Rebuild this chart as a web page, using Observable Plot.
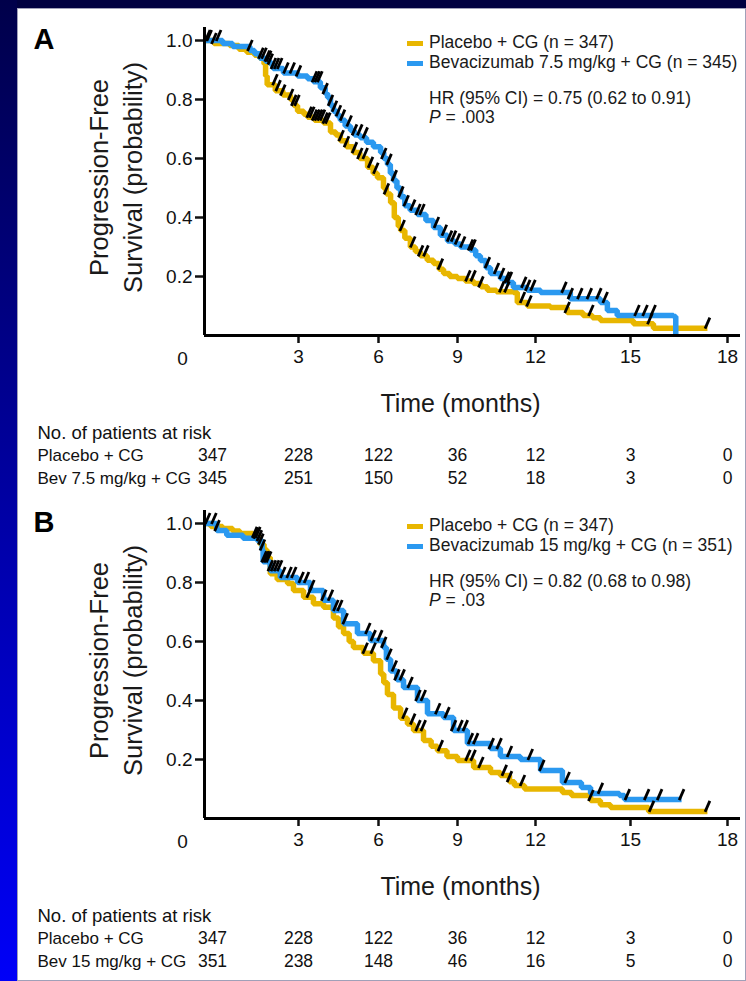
<!DOCTYPE html>
<html>
<head>
<meta charset="utf-8">
<script src="https://cdn.jsdelivr.net/npm/d3@7"></script>
<script src="https://cdn.jsdelivr.net/npm/@observablehq/plot@0.6"></script>
<style>
html, body { margin: 0; padding: 0; }
body { width: 746px; height: 981px; background: #000040; position: relative; overflow: hidden; font-family: "Liberation Sans", Arial, sans-serif; }
#strip { position: absolute; left: 0; top: 0; width: 17px; height: 981px; background: linear-gradient(#00004a, #0000f8); }
#panel { position: absolute; left: 17px; top: 8px; width: 729px; height: 973px; background: #fff; box-shadow: inset 0 0 0 1px #a0a0b8; }
.chart { position: absolute; left: 0; }
.sw { position: absolute; width: 16px; height: 5px; }
.lg { position: absolute; left: 429px; font-size: 17.5px; color: #1a1a1a; white-space: nowrap; line-height: 1; }
</style>
</head>
<body>
<div id="strip"></div>
<div id="panel"></div>
<script>
// ---------- data ----------
const scaleMonths = [0, 3, 6, 9, 12, 15, 18];
const xTicks = [3, 6, 9, 12, 15, 18];
const yTicks = [0.2, 0.4, 0.6, 0.8, 1.0];
const riskTimes = [0, 3, 6, 9, 12, 15, 18];
const originLabel = [0];

// Panel A: step curves [months, survival]
const placeboA = [[0,1.0],[0.3,0.99],[0.8,0.983],[1.1,0.97],[1.35,0.96],[1.6,0.95],[1.77,0.94],[1.9,0.92],[1.95,0.88],[2.0,0.85],
  [2.26,0.83],[2.5,0.815],[2.74,0.80],[2.85,0.78],[2.97,0.76],[3.2,0.75],[3.34,0.74],[3.6,0.73],[3.94,0.72],[4.2,0.69],
  [4.4,0.68],[4.57,0.66],[4.8,0.64],[5.06,0.62],[5.3,0.60],[5.59,0.57],[5.8,0.55],[5.96,0.535],[6.19,0.50],[6.3,0.48],
  [6.46,0.45],[6.6,0.40],[6.75,0.37],[6.84,0.356],[7.0,0.33],[7.21,0.30],[7.4,0.285],[7.59,0.27],[7.85,0.255],[8.09,0.244],
  [8.3,0.225],[8.47,0.21],[8.7,0.20],[9.0,0.193],[9.3,0.185],[9.62,0.176],[9.9,0.165],[10.15,0.153],[10.5,0.148],[11.15,0.146],
  [11.3,0.112],[11.69,0.10],[12.47,0.095],[13.0,0.078],[13.5,0.068],[13.8,0.06],[14.05,0.051],[15.09,0.04],[15.71,0.025],[17.38,0.025]];
const bevA = [[0,1.0],[0.58,0.99],[0.9,0.98],[1.45,0.966],[1.6,0.955],[1.77,0.94],[1.95,0.93],[2.1,0.92],[2.19,0.905],[2.52,0.89],
  [2.97,0.88],[3.34,0.87],[3.56,0.86],[3.82,0.84],[4.0,0.82],[4.09,0.807],[4.2,0.78],[4.31,0.76],[4.45,0.745],[4.57,0.73],
  [4.75,0.71],[4.95,0.695],[5.1,0.68],[5.32,0.67],[5.55,0.655],[5.81,0.64],[6.08,0.62],[6.2,0.60],[6.34,0.58],[6.45,0.55],
  [6.57,0.525],[6.7,0.50],[6.84,0.47],[7.0,0.44],[7.2,0.425],[7.48,0.41],[7.8,0.39],[8.09,0.366],[8.35,0.34],[8.62,0.32],
  [8.9,0.31],[9.12,0.30],[9.5,0.29],[9.7,0.27],[9.88,0.254],[10.1,0.23],[10.27,0.21],[10.65,0.193],[10.9,0.18],[11.15,0.163],
  [11.69,0.153],[12.16,0.146],[13.1,0.125],[14.05,0.112],[14.27,0.085],[14.58,0.068],[16.33,0.064],[16.4,0]];
const placeboA_cens = [0.15,0.3,2.25,2.35,2.5,2.75,2.85,2.95,3.4,3.5,3.6,3.7,3.8,3.9,4.0,4.1,4.6,4.8,5.1,5.3,5.5,5.7,5.9,6.3,6.9,7.3,7.6,7.8,8.35,9.4,9.6,9.9,10.7,10.9,11.5,11.75,13.0,13.75,15.6,17.38];
const bevA_cens = [0.1,0.45,1.45,1.8,1.9,2.0,2.05,2.1,2.2,2.3,2.4,2.6,2.8,3.0,3.6,3.7,3.8,4.0,4.2,4.35,4.5,4.65,4.9,5.1,5.3,5.5,6.2,6.4,6.6,6.85,7.05,7.3,7.5,7.65,8.2,8.5,8.7,8.85,9.0,9.2,9.5,9.6,10.15,10.5,10.7,10.9,11.0,11.55,11.7,11.9,12.9,13.1,13.4,13.7,14.0,14.2,15.2,15.45,15.7];
const riskPlaceboA = [347, 228, 122, 36, 12, 3, 0];
const riskBevA = [345, 251, 150, 52, 18, 3, 0];

// Panel B
const placeboB = [[0,1.0],[0.2,0.99],[0.58,0.983],[0.9,0.975],[1.13,0.966],[1.55,0.953],[1.77,0.93],[1.9,0.91],[2.0,0.885],[2.1,0.83],
  [2.32,0.81],[2.65,0.797],[2.84,0.773],[3.19,0.75],[3.56,0.728],[3.94,0.716],[4.31,0.68],[4.5,0.65],[4.69,0.627],[4.9,0.60],
  [5.06,0.58],[5.44,0.56],[5.81,0.535],[6.08,0.49],[6.2,0.46],[6.34,0.42],[6.57,0.375],[6.84,0.34],[7.1,0.32],[7.33,0.298],
  [7.71,0.264],[8.0,0.245],[8.24,0.23],[8.6,0.21],[9.0,0.197],[9.62,0.173],[10.27,0.156],[10.65,0.146],[11.0,0.125],[11.19,0.112],
  [11.58,0.10],[12.85,0.088],[13.14,0.078],[13.74,0.061],[14.05,0.047],[14.37,0.037],[15.56,0.024],[17.38,0.024]];
const bevB = [[0,1.0],[0.39,0.976],[0.71,0.96],[1.23,0.95],[1.68,0.942],[1.84,0.91],[1.87,0.87],[2.1,0.84],[2.42,0.817],[2.97,0.80],
  [3.45,0.773],[3.94,0.74],[4.31,0.705],[4.69,0.66],[5.21,0.627],[5.7,0.603],[6.19,0.58],[6.3,0.54],[6.46,0.50],[6.7,0.47],
  [6.95,0.444],[7.48,0.40],[7.86,0.355],[8.47,0.342],[8.85,0.298],[9.38,0.254],[10.27,0.237],[10.65,0.21],[11.42,0.20],[12.16,0.163],
  [12.85,0.122],[13.45,0.105],[13.74,0.085],[14.65,0.078],[14.81,0.064],[16.58,0.064]];
const placeboB_cens = [0.1,1.6,1.7,1.8,3.4,5.5,5.8,7.0,7.3,7.5,7.7,8.35,9.4,9.6,9.9,10.8,11.0,11.5,13.75,15.65,17.38];
const bevB_cens = [0.3,0.4,1.65,1.75,1.85,1.9,1.95,2.0,2.05,2.1,2.2,2.3,2.4,2.5,2.7,2.85,3.1,3.3,3.5,3.95,4.2,4.4,4.55,4.75,5.6,5.8,6.05,6.2,6.4,6.6,6.7,6.9,7.2,7.5,7.7,8.25,8.6,8.85,9.1,9.3,9.5,9.7,10.3,10.6,11.0,11.8,12.2,13.0,14.05,14.9,15.5,15.9,16.58];
const riskPlaceboB = [347, 228, 122, 36, 12, 3, 0];
const riskBevB = [351, 238, 148, 46, 16, 5, 0];

const seriesA = ["Placebo + CG (n = 347)", "Bevacizumab 7.5 mg/kg + CG (n = 345)"];
const seriesB = ["Placebo + CG (n = 347)", "Bevacizumab 15 mg/kg + CG (n = 351)"];
const riskLabelsA = ["Placebo + CG", "Bev 7.5 mg/kg + CG"];
const riskLabelsB = ["Placebo + CG", "Bev 15 mg/kg + CG"];
const hrA = ["HR (95% CI) = 0.75 (0.62 to 0.91)", ".003"];
const hrB = ["HR (95% CI) = 0.82 (0.68 to 0.98)", ".03"];
const riskTitle = "No. of patients at risk";
const xTitle = "Time (months)";
const yTitle = "Progression-Free\nSurvival (probability)";

// ---------- drawing ----------
const YELLOW = "#e8b600";
const BLUE = "#2b99f0";
const FONT = "'Liberation Sans', Arial, Helvetica, sans-serif";
const slash = { draw(ctx) { ctx.moveTo(-2.4, 5.5); ctx.lineTo(2.4, -5.5); } };

function stepAt(curve, t) {
  let v = curve[0][1];
  for (const [ti, si] of curve) if (ti <= t) v = si;
  return v;
}

function panel(letter, placebo, bev, pc, bc, riskP, riskB, riskLabels) {
  const toObj = (c) => c.map(([t, s]) => ({t, s}));
  const cens = pc.map(t => ({t, s: stepAt(placebo, t)})).concat(bc.map(t => ({t, s: stepAt(bev, t)})));
  const tx = {fill: "#111", lineAnchor: "middle"};
  return Plot.plot({
    width: 746, height: 483,
    marginLeft: 204, marginRight: 6, marginTop: 27, marginBottom: 148,
    style: {background: "transparent", fontFamily: FONT, overflow: "visible", color: "#111"},
    x: {type: "linear", domain: scaleMonths, range: [204, 298, 378, 457, 535, 630, 727]},
    y: {type: "linear", domain: [0, 1], range: [335, 40]},
    marks: [
      Plot.axisY({ticks: yTicks, tickFormat: d3.format(".1f"), tickSize: 9, tickPadding: 3, fontSize: 19, strokeWidth: 2.5, label: null, color: "#111"}),
      Plot.axisX({ticks: xTicks, tickSize: 8, tickPadding: 6, fontSize: 19, strokeWidth: 2.5, label: null, color: "#111"}),
      Plot.text(originLabel, {...tx, x: d => d, text: d => String(d), frameAnchor: "bottom", dx: -22, dy: 23, fontSize: 19}),
      Plot.line(toObj(placebo), {x: "t", y: "s", curve: "step-after", stroke: YELLOW, strokeWidth: 5.5, strokeLinejoin: "miter", strokeLinecap: "butt"}),
      Plot.line(toObj(bev), {x: "t", y: "s", curve: "step-after", stroke: BLUE, strokeWidth: 5.5, strokeLinejoin: "miter", strokeLinecap: "butt"}),
      Plot.dot(cens, {x: "t", y: "s", symbol: slash, stroke: "#000", fill: "none", strokeWidth: 2.8, dy: -5}),
      Plot.ruleY([0], {stroke: "#000", strokeWidth: 3}),
      Plot.ruleX([0], {stroke: "#000", strokeWidth: 3}),
      Plot.text([letter], {frameAnchor: "top-left", textAnchor: "start", lineAnchor: "top", dx: -171, dy: 1, fontSize: 29, fontWeight: "bold", fill: "#000"}),
      Plot.text([yTitle], {frameAnchor: "left", textAnchor: "middle", lineAnchor: "middle", rotate: -90, dx: -90, dy: -4, fontSize: 25.5, lineHeight: 1.32, fill: "#1a1a1a"}),
      Plot.text([xTitle], {...tx, frameAnchor: "bottom", dx: -12, dy: 68, fontSize: 25, fill: "#1a1a1a"}),
      Plot.text([riskTitle], {...tx, frameAnchor: "bottom-left", dx: -167, dy: 98, textAnchor: "start", fontSize: 18.5}),
      Plot.text([riskLabels[0]], {...tx, frameAnchor: "bottom-left", dx: -167, dy: 120, textAnchor: "start", fontSize: 17}),
      Plot.text([riskLabels[1]], {...tx, frameAnchor: "bottom-left", dx: -167, dy: 143, textAnchor: "start", fontSize: 17}),
      Plot.text(riskTimes, {...tx, filter: (d, i) => i === 0, x: d => d, text: (d, i) => String(riskP[i]), frameAnchor: "bottom", dx: 8, dy: 120, fontSize: 17.5}),
      Plot.text(riskTimes, {...tx, filter: (d, i) => i > 0, x: d => d, text: (d, i) => String(riskP[i]), frameAnchor: "bottom", dy: 120, fontSize: 17.5}),
      Plot.text(riskTimes, {...tx, filter: (d, i) => i === 0, x: d => d, text: (d, i) => String(riskB[i]), frameAnchor: "bottom", dx: 8, dy: 143, fontSize: 17.5}),
      Plot.text(riskTimes, {...tx, filter: (d, i) => i > 0, x: d => d, text: (d, i) => String(riskB[i]), frameAnchor: "bottom", dy: 143, fontSize: 17.5})
    ]
  });
}

function legend(top, series, hr) {
  const add = (html, cls, css) => { const d = document.createElement("div"); d.className = cls; d.innerHTML = html; Object.assign(d.style, css); document.body.appendChild(d); };
  add("", "sw", {left: "407px", top: (top + 41) + "px", background: YELLOW});
  add("", "sw", {left: "407px", top: (top + 61) + "px", background: BLUE});
  add(series[0], "lg", {top: (top + 34) + "px"});
  add(series[1], "lg", {top: (top + 54) + "px"});
  add(hr[0], "lg", {top: (top + 90) + "px"});
  add("<i>P</i> = " + hr[1], "lg", {top: (top + 109) + "px"});
}

function place(svg, top) {
  const d = document.createElement("div");
  d.className = "chart";
  d.style.top = top + "px";
  d.appendChild(svg);
  document.body.appendChild(d);
}

place(panel("A", placeboA, bevA, placeboA_cens, bevA_cens, riskPlaceboA, riskBevA, riskLabelsA), 0);
place(panel("B", placeboB, bevB, placeboB_cens, bevB_cens, riskPlaceboB, riskBevB, riskLabelsB), 483);
legend(0, seriesA, hrA);
legend(483, seriesB, hrB);
</script>
</body>
</html>
